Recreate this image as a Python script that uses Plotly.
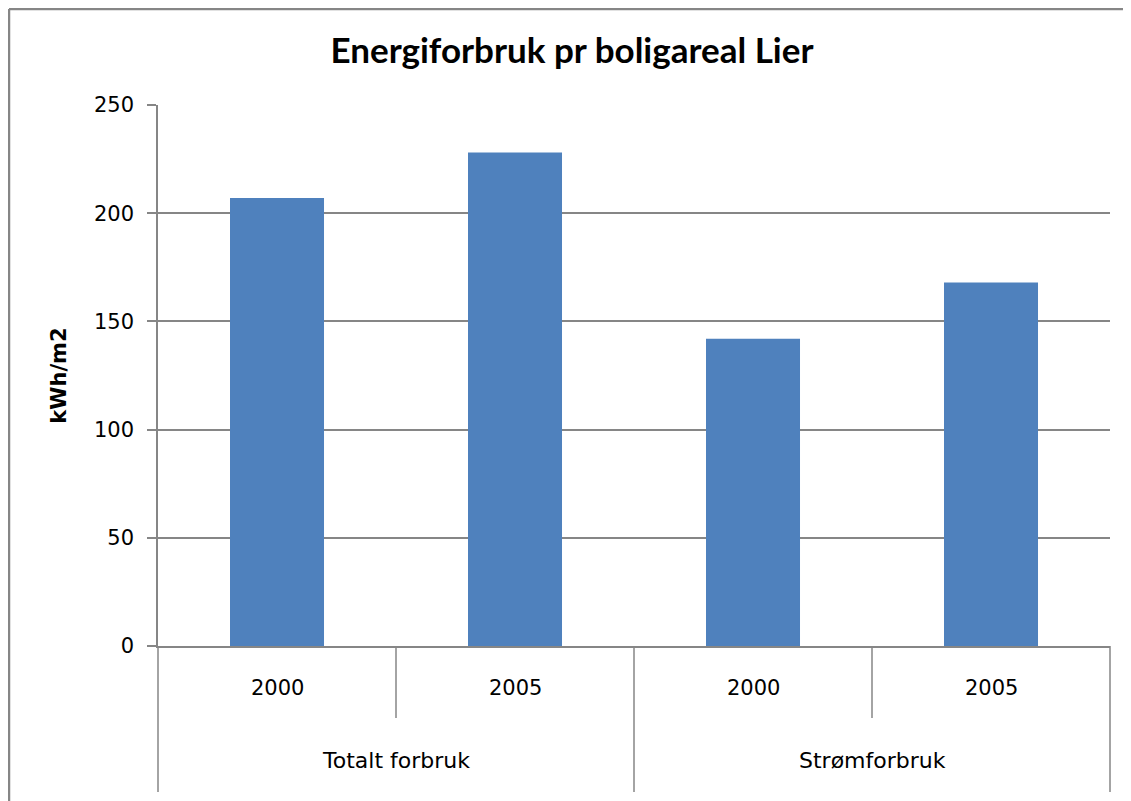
import plotly.graph_objects as go

groups = ["Totalt forbruk", "Totalt forbruk", "Strømforbruk", "Strømforbruk"]
years = ["2000", "2005", "2000", "2005"]
values = [207, 228, 142, 168]
group_labels = ["Totalt forbruk", "Strømforbruk"]
y_ticks = [0, 50, 100, 150, 200, 250]

GRAY = "#868686"
FONT = "DejaVu Sans"

x_idx = list(range(len(values)))
fig = go.Figure(go.Bar(x=x_idx, y=values, marker_color="#4F81BD", width=0.395,
                       marker_line_width=0))

# page is offset by 8px (body margin); work in page pixel coords
OFF = 8
W, H = 1131 - OFF, 801 - OFF
L, R, T, B = 158 - OFF, 21, 105 - OFF, 801 - 646
pw, ph = W - L - R, H - T - B

def px_x(px):
    return (px - OFF - L) / pw

def px_y(py):
    return (H + OFF - B - py) / ph

shapes = []
# frame (top and left) at the figure edge
shapes.append(dict(type="line", xref="paper", yref="paper", x0=px_x(9), x1=px_x(1140),
                   y0=px_y(9), y1=px_y(9), line=dict(color=GRAY, width=2.5)))
shapes.append(dict(type="line", xref="paper", yref="paper", x0=px_x(9), x1=px_x(9),
                   y0=px_y(9), y1=px_y(810), line=dict(color=GRAY, width=2.5)))
# category dividers
n = len(values)
for k in range(n + 1):
    bottom = px_y(792) if k % 2 == 0 else px_y(718)
    shapes.append(dict(type="line", xref="paper", yref="paper", x0=k / n, x1=k / n,
                       y0=0, y1=bottom, line=dict(color=GRAY, width=1.5)))

annotations = []
for i, yr in enumerate(years):
    annotations.append(dict(xref="x", yref="paper", x=i, y=px_y(688), text=yr,
                            showarrow=False, yanchor="middle",
                            font=dict(family=FONT, size=21, color="#000")))
for j, g in enumerate(group_labels):
    annotations.append(dict(xref="x", yref="paper", x=2 * j + 0.5, y=px_y(760), text=g,
                            showarrow=False, yanchor="middle",
                            font=dict(family=FONT, size=22, color="#000")))

fig.update_layout(
    width=W, height=H,
    margin=dict(l=L, r=R, t=T, b=B),
    paper_bgcolor="white", plot_bgcolor="white",
    title=dict(text="Energiforbruk pr boligareal Lier", x=(572 - OFF) / W, xanchor="center",
               y=1 - (51 - OFF) / H, yanchor="middle",
               font=dict(family="Lato", size=35, color="#000", weight="bold")),
    showlegend=False,
    xaxis=dict(range=[-0.5, 3.5], showticklabels=False, showgrid=False, zeroline=False,
               showline=True, linecolor=GRAY, linewidth=1.5, ticks=""),
    yaxis=dict(range=[0, 250], tickvals=y_ticks, showgrid=True, gridcolor=GRAY, gridwidth=1.5,
               zeroline=False, showline=True, linecolor=GRAY, linewidth=1.5,
               ticks="outside", ticklen=9, tickcolor=GRAY, tickwidth=1.5,
               ticklabelstandoff=9,
               tickfont=dict(family=FONT, size=21, color="#000"),
               title=dict(text="kWh/m2", standoff=22,
                          font=dict(family=FONT, size=21, color="#000", weight="bold"))),
    shapes=shapes, annotations=annotations,
    bargap=0.6,
)

fig.write_html("out.html")
